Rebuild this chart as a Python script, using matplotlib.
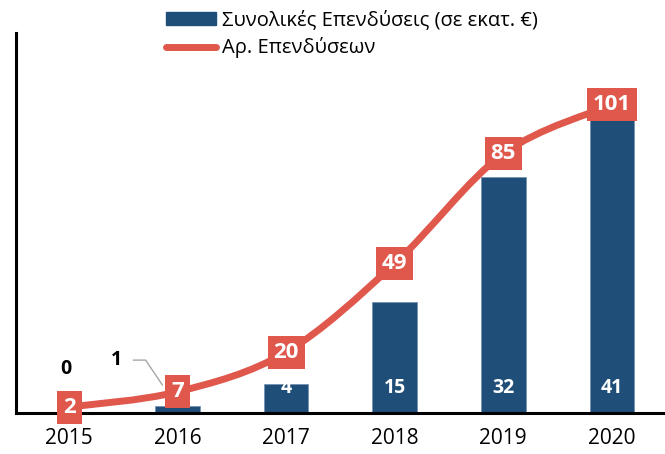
import matplotlib
matplotlib.use("Agg")
from matplotlib import pyplot as plt
from matplotlib.path import Path
from matplotlib.patches import PathPatch
from matplotlib.lines import Line2D
from matplotlib.patches import Patch

years = ["2015", "2016", "2017", "2018", "2019", "2020"]
invest_total = [0, 1, 4, 15, 32, 41]      # Συνολικές Επενδύσεις (σε εκατ. €)
invest_count = [2, 7, 20, 49, 85, 101]    # Αρ. Επενδύσεων

bar_label = "Συνολικές Επενδύσεις (σε εκατ. €)"
line_label = "Αρ. Επενδύσεων"

blue = "#1F4E79"
red = "#E0574C"

plt.rcParams['font.family'] = ['Open Sans', 'DejaVu Sans']

fig = plt.figure(figsize=(6.65, 4.54), dpi=100)
ax = fig.add_axes([0.024, 0.09, 0.976, 0.837])
ax2 = ax.twinx()

x = list(range(len(years)))
ax.bar(x, invest_total, width=0.41, color=blue, edgecolor="#6F8FB0", linewidth=0.5, zorder=2)
ax.set_xlim(-0.49, 5.49)
ax.set_ylim(0, 51.5)
ax2.set_ylim(0, 124.5)

# smooth line through the points (catmull-rom -> bezier)
pts = list(zip(x, invest_count))
verts = [pts[0]]
codes = [Path.MOVETO]
for i in range(len(pts) - 1):
    p0 = pts[i - 1] if i > 0 else pts[i]
    p1 = pts[i]
    p2 = pts[i + 1]
    p3 = pts[i + 2] if i + 2 < len(pts) else pts[i + 1]
    c1 = (p1[0] + (p2[0] - p0[0]) / 6, p1[1] + (p2[1] - p0[1]) / 6)
    c2 = (p2[0] - (p3[0] - p1[0]) / 6, p2[1] - (p3[1] - p1[1]) / 6)
    verts += [c1, c2, p2]
    codes += [Path.CURVE4] * 3
ax2.add_patch(PathPatch(Path(verts, codes), facecolor="none", edgecolor=red,
                        linewidth=5, capstyle="round", zorder=3))

for xi, v in zip(x, invest_count):
    ax2.text(xi, v, str(v), ha="center", va="center", color="white",
             fontsize=16, fontweight="bold", zorder=5,
             bbox=dict(boxstyle="square,pad=0.27", fc=red, ec="none"))

# bar labels
for xi, v in zip(x, invest_total):
    if v >= 4:
        ax.annotate(str(v), xy=(xi, 0), xytext=(0, 18), textcoords="offset points",
                    ha="center", va="center", color="white", fontsize=14,
                    fontweight="bold", zorder=4)
ax.annotate(str(invest_total[0]), xy=(0, 0), xytext=(-2, 32), textcoords="offset points",
            ha="center", va="center", color="black", fontsize=14, fontweight="bold")
ax.annotate(str(invest_total[1]), xy=(0.86, 3.8), xytext=(-33, 18), textcoords="offset points",
            ha="center", va="center", color="black", fontsize=14, fontweight="bold",
            arrowprops=dict(arrowstyle="-", color="#A6A6A6", lw=1,
                            shrinkA=6, shrinkB=0,
                            connectionstyle="angle,angleA=0,angleB=124,rad=0"))

ax.set_xticks(x)
ax.set_xticklabels(years, fontsize=15)
ax.tick_params(axis="x", length=0, pad=11)
ax.set_yticks([])
ax2.set_yticks([])
for a in (ax, ax2):
    a.spines["top"].set_visible(False)
    a.spines["right"].set_visible(False)
ax2.spines["left"].set_visible(False)
ax2.spines["bottom"].set_visible(False)
ax.spines["left"].set_linewidth(2.2)
ax.spines["bottom"].set_linewidth(2.2)

handles = [Patch(facecolor=blue, edgecolor=blue),
           Line2D([0], [0], color=red, lw=5, solid_capstyle="round")]
fig.legend(handles, [bar_label, line_label], loc="upper left",
           bbox_to_anchor=(0.237, 0.995), frameon=False, fontsize=14.5,
           handlelength=2.5, handleheight=0.6, handletextpad=0.3, labelspacing=0.35,
           borderaxespad=0)

fig.savefig("out.png", dpi=100)
